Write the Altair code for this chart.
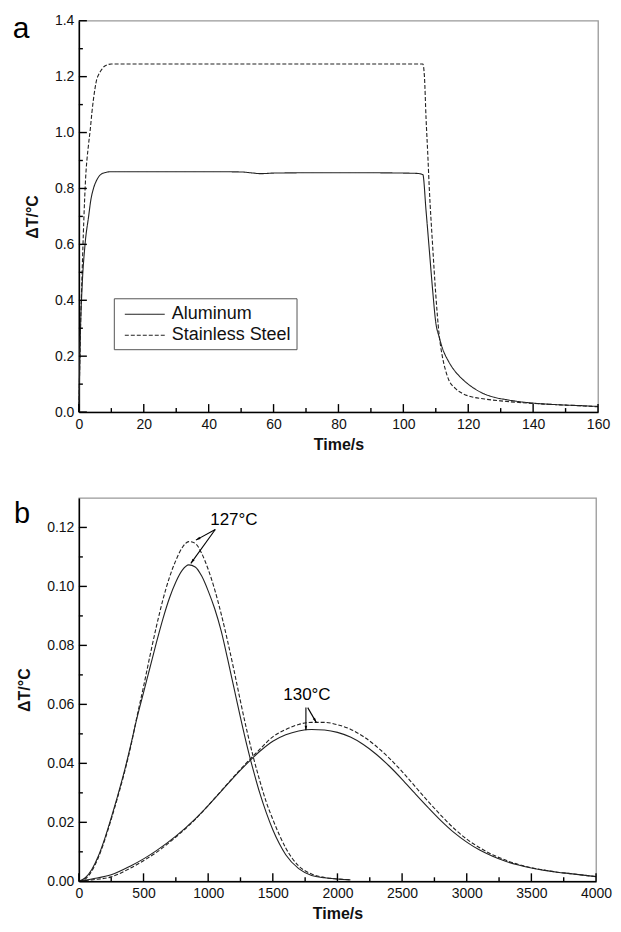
import math
import altair as alt
import pandas as pd

FONT = "Liberation Sans"

# ---------------- panel a data ----------------
al_t = [0, 0.5, 1, 1.9, 3, 3.7, 4.5, 5.5, 7, 8.5, 10, 20, 30, 40, 50, 53, 56, 60, 70, 80, 90, 100, 104, 106,
        107, 108, 109, 110, 111, 112, 114, 116, 118, 120, 124, 128, 132, 136, 140, 145, 150, 155, 160]
al_v = [0.0, 0.3, 0.45, 0.6, 0.7, 0.76, 0.8, 0.83, 0.852, 0.858, 0.86, 0.86, 0.86, 0.86, 0.859, 0.856, 0.853,
        0.855, 0.856, 0.856, 0.856, 0.855, 0.854, 0.85, 0.72, 0.58, 0.44, 0.32, 0.27, 0.23, 0.18, 0.145, 0.12,
        0.10, 0.07, 0.053, 0.044, 0.037, 0.032, 0.028, 0.025, 0.023, 0.02]
ss_t = [0, 0.5, 1, 1.5, 2, 3, 3.5, 4, 5, 5.5, 6, 7, 8, 10, 20, 40, 60, 80, 100, 106, 106.5, 107, 107.5, 108,
        109, 110, 111, 112, 113, 114, 116, 118, 120, 125, 130, 135, 140, 150, 160]
ss_v = [0.0, 0.3, 0.5, 0.68, 0.82, 0.96, 1.01, 1.07, 1.16, 1.19, 1.205, 1.225, 1.238, 1.245, 1.245, 1.245,
        1.245, 1.245, 1.245, 1.245, 1.2, 1.05, 0.93, 0.8, 0.6, 0.42, 0.28, 0.2, 0.15, 0.115, 0.085, 0.068,
        0.058, 0.047, 0.04, 0.035, 0.031, 0.025, 0.019]
series_names = ["Aluminum", "Stainless Steel"]

a_x_major = [0, 20, 40, 60, 80, 100, 120, 140, 160]
a_x_minor = [10, 30, 50, 70, 90, 110, 130, 150]
a_y_major = [0.0, 0.2, 0.4, 0.6, 0.8, 1.0, 1.2, 1.4]
a_y_minor = [0.1, 0.3, 0.5, 0.7, 0.9, 1.1, 1.3]

# ---------------- panel b data ----------------
b127_t = [0, 50, 100, 150, 200, 250, 300, 350, 400, 450, 500, 550, 600, 650, 700, 750, 800, 850, 900, 950,
          1000, 1050, 1100, 1150, 1200, 1250, 1300, 1350, 1400, 1450, 1500, 1550, 1600, 1700, 1800, 1900,
          2000, 2100]
b127_al_v = [0.0, 0.0012, 0.004, 0.0085, 0.0145, 0.0215, 0.029, 0.037, 0.046, 0.0555, 0.064, 0.0725, 0.081,
             0.089, 0.096, 0.1015, 0.1055, 0.1073, 0.1066, 0.1035, 0.0985, 0.0925, 0.085, 0.0755, 0.0655,
             0.0555, 0.046, 0.0375, 0.0298, 0.0232, 0.0175, 0.0128, 0.009, 0.0043, 0.002, 0.0012, 0.0008,
             0.0005]
b127_ss_v = [0.0, 0.0008, 0.0035, 0.008, 0.014, 0.021, 0.0285, 0.0365, 0.0455, 0.056, 0.066, 0.0765, 0.0865,
             0.0955, 0.103, 0.1088, 0.1132, 0.1152, 0.1146, 0.1112, 0.1058, 0.099, 0.0908, 0.0815, 0.0715,
             0.061, 0.051, 0.042, 0.034, 0.0268, 0.021, 0.0158, 0.0113, 0.0052, 0.0025, 0.0013, 0.0008,
             0.0005]
b130_t = [0, 100, 250, 400, 500, 600, 750, 900, 1000, 1100, 1250, 1400, 1500, 1600, 1700, 1800, 1900, 2000,
          2100, 2200, 2300, 2400, 2500, 2600, 2700, 2800, 2900, 3000, 3100, 3200, 3300, 3400, 3500, 3600,
          3700, 3800, 3900, 4000]
b130_al_v = [0.0, 0.0008, 0.0022, 0.0052, 0.0076, 0.0104, 0.0153, 0.0212, 0.0257, 0.0305, 0.0377, 0.0441,
             0.0475, 0.0497, 0.051, 0.0515, 0.0513, 0.0505, 0.0489, 0.0464, 0.0431, 0.0391, 0.0346, 0.0298,
             0.0251, 0.0206, 0.0166, 0.0133, 0.0106, 0.0085, 0.0068, 0.0055, 0.0045, 0.0037, 0.0031, 0.0026,
             0.0021, 0.0016]
b130_ss_v = [0.0, 0.0005, 0.0015, 0.0045, 0.007, 0.0098, 0.015, 0.021, 0.0257, 0.0306, 0.038, 0.0448, 0.049,
             0.0515, 0.0532, 0.0539, 0.0539, 0.0531, 0.0516, 0.0491, 0.0458, 0.0418, 0.0372, 0.0322, 0.0272,
             0.0224, 0.018, 0.0143, 0.0114, 0.009, 0.0072, 0.0057, 0.0046, 0.0038, 0.0031, 0.0026, 0.0021,
             0.0016]

b_labels = ["127\u00b0C", "130\u00b0C"]
b_label_t = [1199, 1764]
b_label_v = [0.1225, 0.0633]
arrow_t1 = [1055, 1055, 1756, 1770]
arrow_v1 = [0.1193, 0.1193, 0.0589, 0.0589]
arrow_t2 = [905, 866, 1756, 1836]
arrow_v2 = [0.1157, 0.1078, 0.0512, 0.0539]

b_x_major = [0, 500, 1000, 1500, 2000, 2500, 3000, 3500, 4000]
b_x_minor = [250, 750, 1250, 1750, 2250, 2750, 3250, 3750]
b_y_major = [0.0, 0.02, 0.04, 0.06, 0.08, 0.10, 0.12]
b_y_minor = [0.01, 0.03, 0.05, 0.07, 0.09, 0.11]

# ---------------- layout constants ----------------
AW, AH = 520, 392
BW, BH = 518, 384
LINE_COLOR = "#222"
DASH = [4, 2]
TICK_MAJOR_PX, TICK_MINOR_PX = 8, 4

# ---------------- shared scales / axes ----------------
A_XDOM, A_YDOM = [0, 160], [0, 1.4]
B_XDOM, B_YDOM = [0, 4000], [0, 0.13]
ax_scale = alt.Scale(domain=A_XDOM, nice=False, zero=False)
ay_scale = alt.Scale(domain=A_YDOM, nice=False)
ax_axis = alt.Axis(title="Time/s", values=a_x_major, format="d")
ay_axis = alt.Axis(title="\u0394T/\u00b0C", values=a_y_major, format=".1f")

bx_scale = alt.Scale(domain=B_XDOM, nice=False)
by_scale = alt.Scale(domain=B_YDOM, nice=False)
bx_axis = alt.Axis(title="Time/s", values=b_x_major, format="d")
by_axis = alt.Axis(title="\u0394T/\u00b0C", values=b_y_major, format=".2f")


def tick_layers(xs_major, xs_minor, ys_major, ys_minor, xsc, ysc, xdom, ydom, w, h):
    """Inward-pointing axis ticks, drawn as rules through the panel's own scales."""
    layers = []
    per_px_y = (ydom[1] - ydom[0]) / h
    per_px_x = (xdom[1] - xdom[0]) / w
    for vals, ln in ((xs_major, TICK_MAJOR_PX), (xs_minor, TICK_MINOR_PX)):
        df = pd.DataFrame({"t": vals, "v": [ydom[0]] * len(vals), "v2": [ydom[0] + ln * per_px_y] * len(vals)})
        layers.append(alt.Chart(df).mark_rule(color="black", strokeWidth=1.4).encode(
            x=alt.X("t:Q", scale=xsc), y=alt.Y("v:Q", scale=ysc), y2="v2:Q"))
    for vals, ln in ((ys_major, TICK_MAJOR_PX), (ys_minor, TICK_MINOR_PX)):
        df = pd.DataFrame({"v": vals, "t": [xdom[0]] * len(vals), "t2": [xdom[0] + ln * per_px_x] * len(vals)})
        layers.append(alt.Chart(df).mark_rule(color="black", strokeWidth=1.4).encode(
            y=alt.Y("v:Q", scale=ysc), x=alt.X("t:Q", scale=xsc), x2="t2:Q"))
    return layers


# ---------------- panel a ----------------
df_a = pd.concat([
    pd.DataFrame({"t": al_t, "v": al_v, "series": series_names[0]}),
    pd.DataFrame({"t": ss_t, "v": ss_v, "series": series_names[1]}),
])

a_lines = alt.Chart(df_a).mark_line(color=LINE_COLOR, strokeWidth=1.1, interpolate="monotone").encode(
    x=alt.X("t:Q", scale=ax_scale, axis=ax_axis),
    y=alt.Y("v:Q", scale=ay_scale, axis=ay_axis),
    strokeDash=alt.StrokeDash("series:N",
                              scale=alt.Scale(domain=series_names, range=[[1, 0], DASH]),
                              legend=alt.Legend(title=None, orient="none", legendX=35, legendY=278,
                                                symbolType="M-0.5,0L3.5,0", symbolSize=400,
                                                symbolStrokeWidth=1.1, symbolStrokeColor=LINE_COLOR,
                                                labelFontSize=18, labelFont=FONT, labelColor="#111",
                                                labelOffset=31, strokeColor="#555", padding=5,
                                                rowPadding=1)),
)
a_label = alt.Chart(pd.DataFrame({"s": ["a"]})).mark_text(
    font=FONT, fontSize=30, align="center", baseline="alphabetic", color="black").encode(
    text="s:N", x=alt.value(-58), y=alt.value(17))

panel_a = alt.layer(a_lines,
                    *tick_layers(a_x_major, a_x_minor, a_y_major, a_y_minor, ax_scale, ay_scale,
                                 A_XDOM, A_YDOM, AW, AH),
                    a_label).properties(width=AW, height=AH)

# ---------------- panel b ----------------
curves = [
    (b127_t, b127_al_v, False),
    (b127_t, b127_ss_v, True),
    (b130_t, b130_al_v, False),
    (b130_t, b130_ss_v, True),
]
b_layers = []
for tt, vv, dashed in curves:
    kw = dict(color=LINE_COLOR, strokeWidth=1.1, interpolate="monotone")
    if dashed:
        kw["strokeDash"] = DASH
    b_layers.append(alt.Chart(pd.DataFrame({"t": tt, "v": vv})).mark_line(**kw).encode(
        x=alt.X("t:Q", scale=bx_scale, axis=bx_axis),
        y=alt.Y("v:Q", scale=by_scale, axis=by_axis)))

# arrows (angles follow the pixel direction of each arrow)
px_x = BW / (B_XDOM[1] - B_XDOM[0])
px_y = BH / (B_YDOM[1] - B_YDOM[0])
angles = []
for t1, v1, t2, v2 in zip(arrow_t1, arrow_v1, arrow_t2, arrow_v2):
    dx = (t2 - t1) * px_x
    dy = -(v2 - v1) * px_y
    angles.append(math.degrees(math.atan2(dx, -dy)) % 360)
df_arrow = pd.DataFrame({"t": arrow_t1, "v": arrow_v1, "t2": arrow_t2, "v2": arrow_v2})
arrow_lines = alt.Chart(df_arrow).mark_rule(color="black", strokeWidth=1.1).encode(
    x=alt.X("t:Q", scale=bx_scale), y=alt.Y("v:Q", scale=by_scale),
    x2="t2:Q", y2="v2:Q")
df_heads = pd.DataFrame({"t": arrow_t2, "v": arrow_v2, "ang": angles})
arrow_heads = alt.Chart(df_heads).mark_point(
    shape="M0,0L-0.55,2L0.55,2Z", filled=True, color="black", opacity=1, size=22, strokeWidth=0).encode(
    x=alt.X("t:Q", scale=bx_scale), y=alt.Y("v:Q", scale=by_scale),
    angle=alt.Angle("ang:Q", scale=None))
b_text = alt.Chart(pd.DataFrame({"lab": b_labels, "t": b_label_t, "v": b_label_v})).mark_text(
    font=FONT, fontSize=17, color="black", align="center", baseline="middle").encode(
    x=alt.X("t:Q", scale=bx_scale), y=alt.Y("v:Q", scale=by_scale), text="lab:N")
b_label = alt.Chart(pd.DataFrame({"s": ["b"]})).mark_text(
    font=FONT, fontSize=29, align="center", baseline="alphabetic", color="black").encode(
    text="s:N", x=alt.value(-57), y=alt.value(25))

panel_b = alt.layer(*b_layers, arrow_lines, arrow_heads, b_text,
                    *tick_layers(b_x_major, b_x_minor, b_y_major, b_y_minor, bx_scale, by_scale,
                                 B_XDOM, B_YDOM, BW, BH),
                    b_label).properties(width=BW, height=BH)

chart = alt.vconcat(panel_a, panel_b, spacing=44).properties(
    padding={"left": 4, "top": 4, "right": 0, "bottom": 0}
).configure_view(
    stroke="#999", strokeWidth=1.3
).configure_axis(
    domainColor="black", domainWidth=1.5, ticks=False, grid=False, labelFlush=False,
    labelFont=FONT, labelFontSize=14, labelColor="#111", labelPadding=5,
    titleFont=FONT, titleFontSize=16, titleFontWeight="bold", titleColor="#111",
).configure_axisY(titlePadding=14).configure_axisX(titlePadding=5)

chart.save("out.html", embed_options={"renderer": "svg", "actions": False})
